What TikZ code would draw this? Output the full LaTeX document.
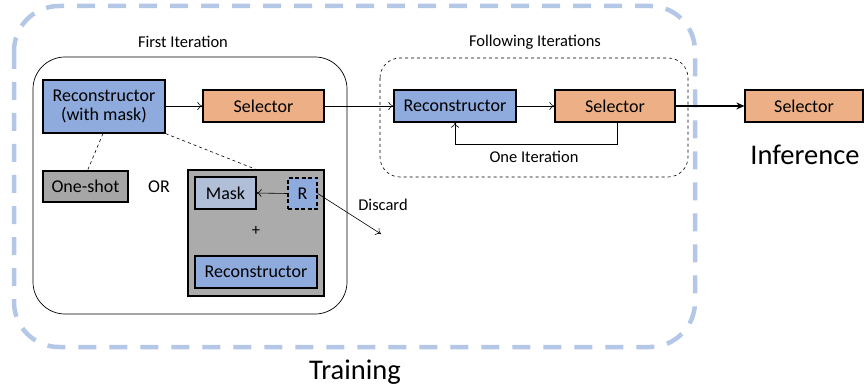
\documentclass[tikz,border=0pt]{standalone}
\usepackage{fontspec}
\setmainfont{Carlito}
\usetikzlibrary{arrows.meta}
\definecolor{rblue}{HTML}{8FAADC}
\definecolor{sorange}{HTML}{EDB086}
\definecolor{ogray}{HTML}{A6A6A6}
\definecolor{bgray}{HTML}{ABABAB}
\definecolor{mblue}{HTML}{B0BED8}
\definecolor{tblue}{HTML}{B4C7E7}
\begin{document}
\begin{tikzpicture}[x=1pt,y=-1pt,
  box/.style={draw=black,line width=1.2pt,inner sep=0pt,align=center,font=\fontsize{18}{19}\selectfont},
  recon/.style={box,fill=rblue},
  sel/.style={box,fill=sorange},
  lbl/.style={font=\fontsize{16.5}{18}\selectfont,inner sep=0pt},
  big/.style={font=\fontsize{28.5}{32}\selectfont,inner sep=0pt},
  arr/.style={-{To[length=5pt,width=8pt]},line width=0.6pt}
]
\useasboundingbox (0,0) rectangle (864,390);
% training region
\draw[tblue,line width=4.5pt,dash pattern=on 18pt off 13pt,rounded corners=45pt] (14,6) rectangle (695,347);
% first iteration frame
\draw[line width=0.7pt,rounded corners=32pt] (33,57) rectangle (347,314);
\node[lbl] (fi) at (183,42) {First Iteration};
% following iterations frame
\draw[line width=0.6pt,dashed,rounded corners=20pt] (380,58) rectangle (688,177);
\node[lbl] (fo) at (535,42) {Following Iterations};

\node[recon,minimum width=122pt,minimum height=53pt] (rm) at (104,106.5) {Reconstructor\\(with mask)};
\node[sel,minimum width=121pt,minimum height=32pt] (s1) at (263.5,106) {Selector};
\node[box,fill=ogray,minimum width=85pt,minimum height=31pt] (os) at (85.5,186.5) {One-shot};
\node[lbl,font=\fontsize{18}{19}\selectfont] (or) at (159,187) {OR};
\node[box,fill=bgray,minimum width=136pt,minimum height=126pt] (gb) at (256,233) {};
\node[box,fill=mblue,minimum width=61pt,minimum height=32pt] (mk) at (225.5,193) {Mask};
\node[box,fill=rblue,dash pattern=on 4pt off 2.5pt,minimum width=29pt,minimum height=31pt] (r) at (302.5,193.5) {R};
\node[lbl] (plus) at (256,231) {+};
\node[recon,minimum width=122pt,minimum height=32pt] (ri) at (256,272) {Reconstructor};
\coordinate (dis) at (381,234);
\node[lbl] (dl) at (383,205) {Discard};

\node[recon,minimum width=122pt,minimum height=32pt] (r2) at (455,106) {Reconstructor};
\node[sel,minimum width=120pt,minimum height=32pt] (s2) at (615,106) {Selector};
\node[lbl] (oi) at (534,157) {One Iteration};
\node[sel,minimum width=118pt,minimum height=32pt] (s3) at (804,106) {Selector};
\node[big] (inf) at (805,155) {Inference};
\node[big] (tr) at (355,372) {Training};

% connectors
\draw[arr] (rm.east |- s1.west) -- (s1.west);
\draw[arr] (s1.east) -- (r2.west);
\draw[arr] (r2.east) -- (s2.west);
\draw[arr] ([xshift=2pt]s2.south) -- ++(0,22) -| (r2.south);
\draw[-{Stealth[length=8pt,width=7pt]},line width=1.6pt] (s2.east) -- (s3.west);
\draw[dashed,line width=0.6pt] ([xshift=-1pt]rm.south) -- ([xshift=2pt]os.north);
\draw[dashed,line width=0.6pt] (rm.south east) -- (gb.north);
\draw[arr] (r.west) -- (mk.east);
\draw[arr] (r.east) -- (dis);
\end{tikzpicture}
\end{document}
